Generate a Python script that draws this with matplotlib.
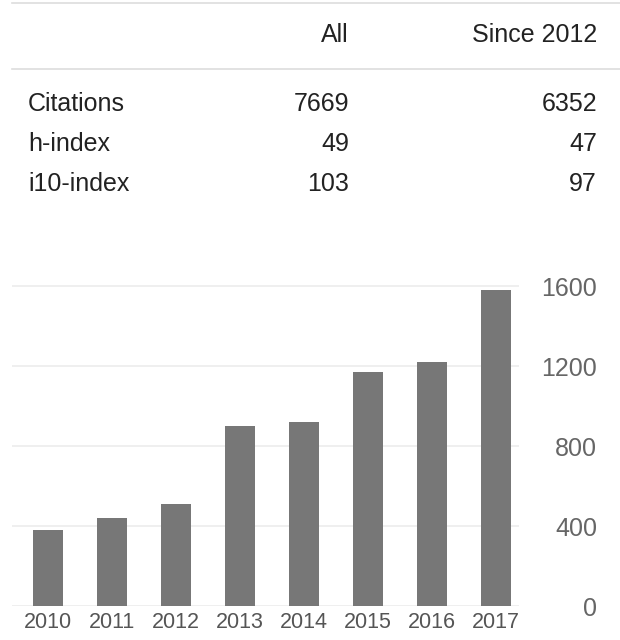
import matplotlib
matplotlib.use("Agg")
import matplotlib.pyplot as plt
import matplotlib.transforms as mtransforms

# ---- data ----
years = ["2010", "2011", "2012", "2013", "2014", "2015", "2016", "2017"]
citations = [380, 440, 510, 900, 920, 1170, 1220, 1580]
yticks = [0, 400, 800, 1200, 1600]

table_header = ["All", "Since 2012"]
table_rows = ["Citations", "h-index", "i10-index"]
table_all = ["7669", "49", "103"]
table_since = ["6352", "47", "97"]

W, H = 620, 640
DPI = 100
plt.rcParams['font.family'] = ['Liberation Sans', 'DejaVu Sans']

fig = plt.figure(figsize=(W / DPI, H / DPI), dpi=DPI)
fig.patch.set_facecolor("white")

def fx(px):
    return px / W

def fy(py):
    return 1 - py / H

# ---- table ----
line_col = "#dddddd"
for yy in [3, 69]:
    fig.add_artist(plt.Line2D([fx(12), fx(620)], [fy(yy), fy(yy)], color=line_col, lw=1.2))
txt_col = "#222222"
fs = 18
fig.text(fx(349), fy(35), table_header[0], ha="right", va="center", fontsize=fs, color=txt_col)
fig.text(fx(597), fy(35), table_header[1], ha="right", va="center", fontsize=fs, color=txt_col)
row_y = [104, 144, 184]
for lbl, a, s, yy in zip(table_rows, table_all, table_since, row_y):
    fig.text(fx(28), fy(yy), lbl, ha="left", va="center", fontsize=fs, color=txt_col)
    fig.text(fx(349), fy(yy), a, ha="right", va="center", fontsize=fs, color=txt_col)
    fig.text(fx(597), fy(yy), s, ha="right", va="center", fontsize=fs, color=txt_col)

# ---- bar chart ----
left_px, right_px = 12, 519
base_px = 606
top_px = 282
ax = fig.add_axes([fx(left_px), fy(base_px), (right_px - left_px) / W, (base_px - top_px) / H])
xs = list(range(len(years)))
ax.bar(xs, citations, width=0.47, color="#777777", zorder=3)
ax.set_xlim((left_px - 48) / 64, (right_px - 48) / 64)
ax.set_ylim(0, (base_px - top_px) / 0.2)
for s in ax.spines.values():
    s.set_visible(False)
ax.set_yticks(yticks)
ax.yaxis.grid(True, color="#ececec", lw=1.2, zorder=0)
ax.set_axisbelow(True)
ax.yaxis.tick_right()
ax.tick_params(axis="y", length=0, labelsize=18, labelcolor="#666666", pad=(597 - right_px) * 0.72)
for t in ax.get_yticklabels():
    t.set_ha("right")
ax.set_xticks(xs)
ax.set_xticklabels(years)
ax.tick_params(axis="x", length=0, labelsize=15.5, labelcolor="#555555", pad=4)

fig.savefig("out.png", dpi=DPI, facecolor="white")
